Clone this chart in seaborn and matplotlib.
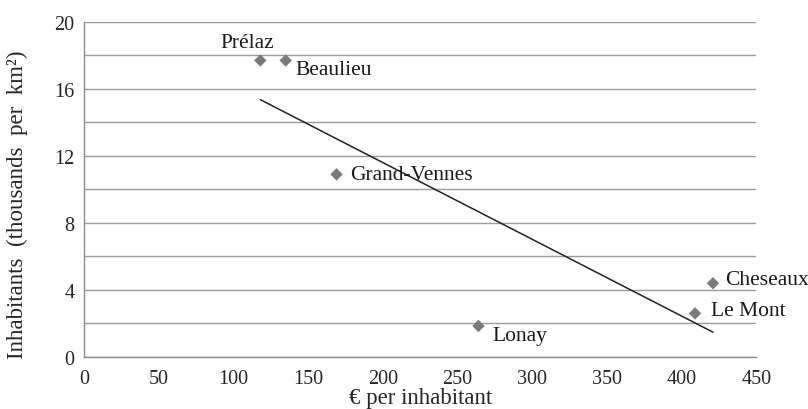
import numpy as np
import pandas as pd
import seaborn as sns
import matplotlib.pyplot as plt
from matplotlib.ticker import MultipleLocator

# data
communes = ["Prélaz", "Beaulieu", "Grand-Vennes", "Cheseaux", "Le Mont", "Lonay"]
euro_per_inhabitant = [118, 135, 169, 421, 409, 264]
density_thousands = [17.7, 17.7, 10.9, 4.4, 2.6, 1.85]
# label offsets in pixels (dx, dy) and horizontal alignment
label_offsets = [(-13, 18, "center"), (10, -9, "left"), (14, 0, "left"),
                 (12, 4, "left"), (16, 3, "left"), (14, -10, "left")]

df = pd.DataFrame({"commune": communes,
                   "euro": euro_per_inhabitant,
                   "density": density_thousands})

sns.set_style("white")
plt.rcParams["font.family"] = ["Liberation Serif", "DejaVu Serif"]

fig = plt.figure(figsize=(8.08, 4.10), dpi=100)
ax = fig.add_axes([0.104, 0.127, 0.832, 0.817])

sns.regplot(data=df, x="euro", y="density", ci=None, ax=ax,
            scatter=False, truncate=True,
            line_kws={"color": "#222222", "lw": 1.1})
sns.scatterplot(data=df, x="euro", y="density", ax=ax, marker="D",
                s=40, color="#7a7a7a", edgecolor="none", zorder=3)

for (name, x, y), (dx, dy, ha) in zip(zip(communes, euro_per_inhabitant, density_thousands),
                                      label_offsets):
    ax.annotate(name, (x, y), xytext=(dx, dy), textcoords="offset pixels",
                ha=ha, va="center", fontsize=15.5, color="#1a1a1a")

ax.set_xlim(0, 450)
ax.set_ylim(0, 20)
ax.xaxis.set_major_locator(MultipleLocator(50))
ax.yaxis.set_major_locator(MultipleLocator(4))
ax.yaxis.set_minor_locator(MultipleLocator(2))
ax.grid(axis="y", which="both", color="#9a9a9a", lw=1.0)
ax.grid(axis="x", visible=False)
ax.set_axisbelow(True)

for side in ["top", "right"]:
    ax.spines[side].set_visible(False)
for side in ["left", "bottom"]:
    ax.spines[side].set_color("#8a8a8a")
    ax.spines[side].set_linewidth(1.0)

ax.tick_params(axis="x", which="major", direction="out", length=4,
               color="#8a8a8a", labelsize=14.5, pad=5)
ax.tick_params(axis="y", which="both", direction="out", length=4,
               color="#8a8a8a", labelsize=14.5, pad=3)

ax.set_xlabel("€ per inhabitant", fontsize=16.5, labelpad=-1)
ax.set_ylabel("Inhabitants  (thousands  per  km²)", fontsize=16.5)
ax.yaxis.set_label_coords(-0.083, 0.457)

fig.savefig("out.png", dpi=100)
